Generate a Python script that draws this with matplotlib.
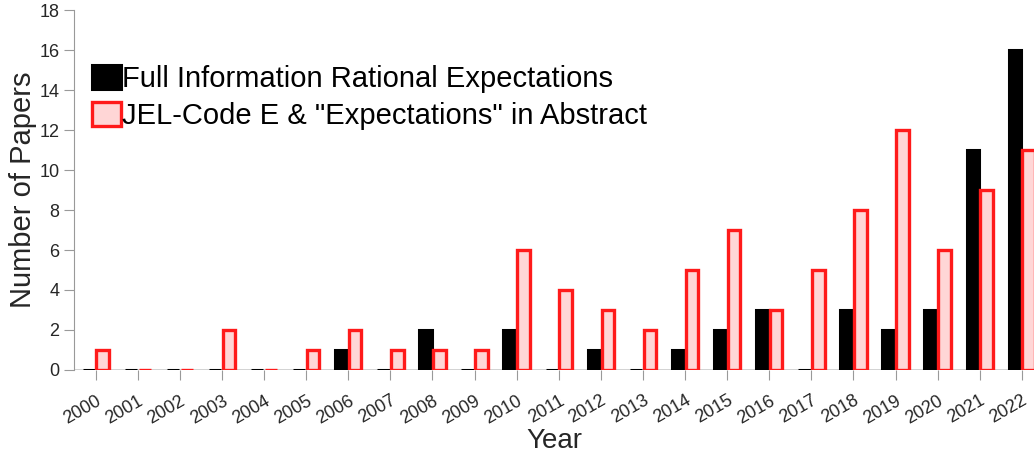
import matplotlib
matplotlib.use("Agg")
import matplotlib.pyplot as plt
import numpy as np

plt.rcParams['font.family'] = ['Liberation Sans', 'DejaVu Sans']

# Daten
years = np.arange(2000, 2023)
full_info = [0, 0, 0, 0, 0, 0, 1, 0, 2, 0, 2, 0, 1, 0, 1, 2, 3, 0, 3, 2, 3, 11, 16]
jel_e = [1, 0, 0, 2, 0, 1, 2, 1, 1, 1, 6, 4, 3, 2, 5, 7, 3, 5, 8, 12, 6, 9, 11]
labels = ['Full Information Rational Expectations',
          'JEL-Code E & "Expectations" in Abstract']

fig = plt.figure(figsize=(10.34, 4.59), dpi=100)
ax = fig.add_axes([0.0716, 0.194, 0.9284, 0.784])

w = 0.33
ax.bar(years - w / 2, full_info, w * 0.9, color='black', edgecolor='black',
       linewidth=2.2, label=labels[0], zorder=3)
ax.bar(years + w / 2, jel_e, w * 0.9, color='#ffd6d6', edgecolor='#ff1a1a',
       linewidth=2.4, label=labels[1], zorder=3)

ax.axhline(0, color='#222222', linewidth=1.0, zorder=2)

ax.set_xlim(1999.485, 2022.29)
ax.set_ylim(0, 18)
ax.set_yticks(np.arange(0, 19, 2))
ax.set_xticks(years)
ax.set_xticklabels([str(y) for y in years], rotation=30, ha='right',
                   rotation_mode='anchor')

for s in ['top', 'right', 'bottom']:
    ax.spines[s].set_visible(False)
ax.spines['left'].set_color('#999999')
ax.tick_params(axis='both', colors='#999999', labelcolor='#262626',
               labelsize=13, direction='out', length=7)
ax.tick_params(axis='x', pad=9)

ax.set_xlabel('Year', fontsize=20, color='#262626', labelpad=1)
ax.set_ylabel('Number of Papers', fontsize=21, color='#262626', labelpad=2)

ax.legend(loc='upper left', bbox_to_anchor=(-0.009, 0.92), frameon=False,
          fontsize=21, handlelength=1.0, handleheight=0.9,
          handletextpad=0.05, labelspacing=0.3, borderaxespad=0.5)

fig.savefig('out.png', dpi=100)
